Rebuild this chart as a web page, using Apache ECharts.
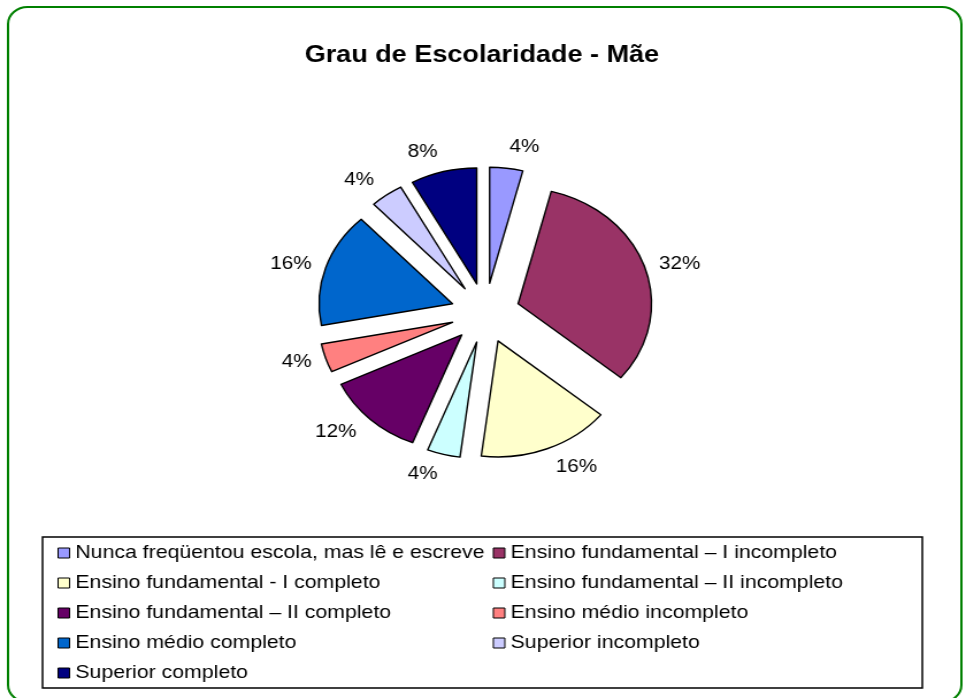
<!DOCTYPE html>
<html>
<head>
<meta charset="utf-8">
<script src="https://cdn.jsdelivr.net/npm/echarts@6/dist/echarts.min.js"></script>
<style>
html, body { margin: 0; padding: 0; background: #fff; overflow: hidden; }
/* the original picture is stretched sideways, so the whole chart is too */
#box1 { width: 838px; height: 698px; transform: scaleX(1.15); transform-origin: 0 0; }
</style>
</head>
<body>
<div id="box1"></div>
<script>
var titleText = 'Grau de Escolaridade - Mãe';
var categories = [
  'Nunca freqüentou escola, mas lê e escreve',
  'Ensino fundamental – I incompleto',
  'Ensino fundamental - I completo',
  'Ensino fundamental – II incompleto',
  'Ensino fundamental – II completo',
  'Ensino médio incompleto',
  'Ensino médio completo',
  'Superior incompleto',
  'Superior completo'
];
var values = [4, 32, 16, 4, 12, 4, 16, 4, 8];
var colors = ['#9999FF', '#993366', '#FFFFCC', '#CCFFFF', '#660066', '#FF8080', '#0066CC', '#CCCCFF', '#000080'];

var font = 'Arial, "Liberation Sans", sans-serif';

var dom = document.getElementById('box1');
var myChart = echarts.init(dom);

var total = values.reduce(function (a, b) { return a + b; }, 0);
var acc = 0;
var pieData = categories.map(function (name, i) {
  var mid = (acc + values[i] / 2) / total * 2 * Math.PI;
  acc += values[i];
  return {
    name: name,
    value: values[i],
    selected: true,
    itemStyle: { color: colors[i] },
    // labels sit a bit further out at the top and bottom, like Excel does
    labelLine: { length: 9 + 12 * Math.abs(Math.cos(mid)) }
  };
});

var leftNames = categories.filter(function (c, i) { return i % 2 === 0; });
var rightNames = categories.filter(function (c, i) { return i % 2 === 1; });

function legendCol(left, names) {
  return {
    orient: 'vertical',
    left: left,
    top: 543,
    padding: 0,
    data: names,
    icon: 'rect',
    itemWidth: 10,
    itemHeight: 10,
    itemGap: 10,
    selectedMode: false,
    itemStyle: { borderColor: '#000', borderWidth: 1 },
    textStyle: { fontFamily: font, fontSize: 18.5, lineHeight: 20, color: '#000' }
  };
}

var option = {
  animation: false,
  backgroundColor: '#fff',
  title: {
    text: titleText,
    left: 'center',
    top: 39,
    textStyle: { fontFamily: font, fontSize: 23.5, fontWeight: 'bold', color: '#000' }
  },
  legend: [legendCol(50, leftNames), legendCol(428.5, rightNames)],
  graphic: [
    {
      type: 'rect',
      shape: { x: 7, y: 7, width: 829, height: 695, r: 17 },
      style: { fill: 'none', stroke: '#008000', lineWidth: 2 },
      silent: true
    },
    {
      type: 'rect',
      shape: { x: 37, y: 537, width: 765, height: 151 },
      style: { fill: 'none', stroke: '#000', lineWidth: 1.5 },
      silent: true
    }
  ],
  series: [
    {
      type: 'pie',
      center: [422, 313],
      radius: 116,
      startAngle: 90,
      clockwise: true,
      selectedMode: 'multiple',
      selectedOffset: 30,
      avoidLabelOverlap: false,
      percentPrecision: 0,
      itemStyle: { borderColor: '#000', borderWidth: 1.4 },
      label: {
        position: 'outside',
        formatter: '{d}%',
        fontFamily: font,
        fontSize: 18,
        color: '#000',
        distanceToLabelLine: 0
      },
      labelLine: { show: false, length: 10, length2: 0 },
      emphasis: { disabled: true },
      select: {
        itemStyle: { borderColor: '#000', borderWidth: 1.4 },
        label: { color: '#000' }
      },
      data: pieData
    }
  ]
};

if (option && typeof option === 'object') {
  myChart.setOption(option);
}
</script>
</body>
</html>
